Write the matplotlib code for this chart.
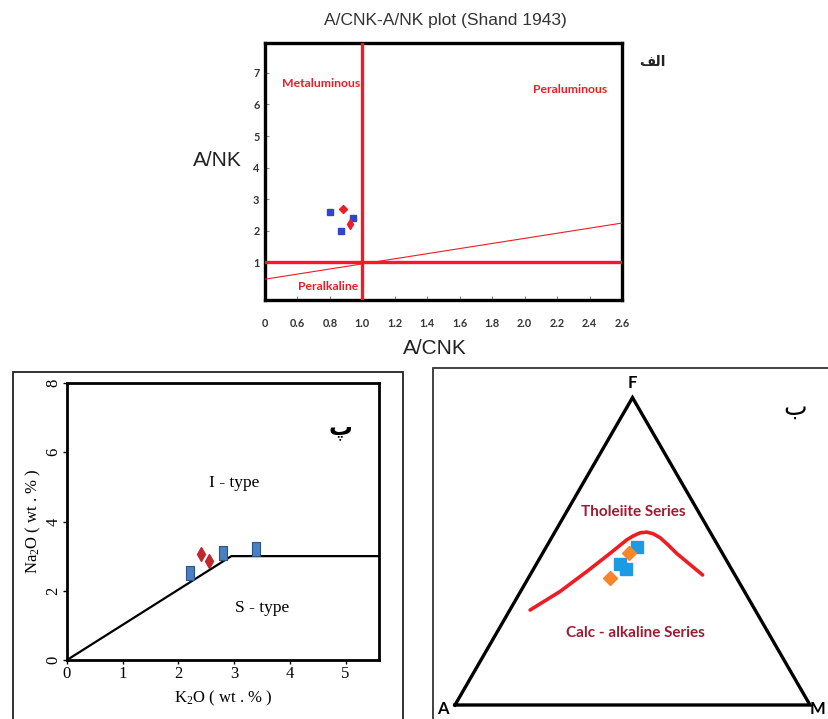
import numpy as np
import matplotlib
matplotlib.use("Agg")
import matplotlib.pyplot as plt
from matplotlib.patches import Rectangle
from matplotlib.path import Path

plt.rcParams['mathtext.fontset'] = 'custom'
plt.rcParams['mathtext.rm'] = 'Liberation Serif'
plt.rcParams['mathtext.it'] = 'Liberation Serif:italic'

# ---------------- data ----------------
# Panel (alef): A/CNK vs A/NK
acnk_blue = [0.80, 0.87, 0.94]
anK_blue = [2.6, 2.0, 2.4]
acnk_red = [0.88, 0.925]
anK_red = [2.7, 2.2]
top_xticks = [0.4, 0.6, 0.8, 1.0, 1.2, 1.4, 1.6, 1.8, 2.0, 2.2, 2.4, 2.6]
top_xticklabels = ['0', '0.6', '0.8', '1.0', '1.2', '1.4', '1.6', '1.8', '2.0', '2.2', '2.4', '2.6']
top_yticks = [1, 2, 3, 4, 5, 6, 7]
diag_x = [0.4, 2.6]
diag_y = [0.46, 2.24]

# Panel (pe): K2O vs Na2O
k2o_blue = [2.2, 2.8, 3.4]
na2o_blue = [2.5, 3.1, 3.2]
k2o_red = [2.41, 2.54]
na2o_red = [3.05, 2.85]
is_bound_x = [0.0, 2.95, 5.6]
is_bound_y = [0.0, 3.0, 3.0]

# Panel (be): AFM ternary (A, F, M in %)
curve_A = [63.4, 52.0, 41.2, 31.7, 24.8, 22.3, 19.9, 17.9, 16.3, 15.0, 13.9, 12.9, 9.1]
curve_F = [30.9, 36.9, 43.4, 49.3, 53.7, 55.0, 56.0, 56.3, 55.7, 54.4, 52.0, 49.3, 42.3]
curve_M = [5.7, 11.1, 15.4, 19.0, 21.5, 22.7, 24.1, 25.9, 28.0, 30.6, 34.1, 37.8, 48.6]
afm_blue_A = [22.9, 30.5, 29.6]
afm_blue_F = [51.5, 46.0, 44.2]
afm_blue_M = [25.6, 23.5, 26.2]
afm_orange_A = [26.2, 35.6]
afm_orange_F = [49.4, 41.2]
afm_orange_M = [24.4, 23.2]


def tern(a, f, m):
    a = np.asarray(a, float); f = np.asarray(f, float); m = np.asarray(m, float)
    t = a + f + m
    F = f / t
    M = m / t
    return M + F / 2.0, F * np.sqrt(3) / 2.0


W, H = 829, 719
fig = plt.figure(figsize=(W / 100, H / 100), dpi=100)
fig.patch.set_facecolor('white')

RED = '#ee1c25'

# ================= Top panel =================
ax1 = fig.add_axes([265 / W, 1 - 300 / H, 357 / W, 257 / H])
ax1.set_xlim(0.4, 2.6)
ax1.set_ylim(-0.2, 7.95)
for s in ax1.spines.values():
    s.set_linewidth(2.4)
    s.set_color('black')
ax1.axvline(1.0, color=RED, lw=2.4, zorder=3)
ax1.axhline(1.0, color=RED, lw=2.4, zorder=3)
ax1.plot(diag_x, diag_y, color=RED, lw=0.8, zorder=3)
ax1.plot(acnk_blue, anK_blue, 's', color='#3344cc', ms=3.8, zorder=4)
ax1.plot(acnk_red[:1], anK_red[:1], 'D', color=RED, ms=3.6, zorder=4)
ax1.plot(acnk_red[1:], anK_red[1:], 'd', color=RED, ms=5, zorder=4)
ax1.set_xticks(top_xticks)
ax1.set_xticklabels(top_xticklabels)
ax1.set_yticks(top_yticks)
ax1.tick_params(direction='in', length=3, width=0.8, color='#888888',
                labelsize=7.8, labelcolor='#333333')
ax1.tick_params(axis='x', pad=13)
ax1.tick_params(axis='y', pad=4)
for lab in ax1.get_xticklabels() + ax1.get_yticklabels():
    lab.set_fontweight('bold')
    lab.set_family('Lato')
ax1.text(0.745, 6.65, 'Metaluminous', color=RED, fontsize=8.8, fontweight='bold',
         family='Lato', ha='center', va='center')
ax1.text(2.28, 6.49, 'Peraluminous', color=RED, fontsize=8.8, fontweight='bold',
         family='Lato', ha='center', va='center')
ax1.text(0.79, 0.24, 'Peralkaline', color=RED, fontsize=8.8, fontweight='bold',
         family='Lato', ha='center', va='center')
fig.text(445 / W, 1 - 20 / H, 'A/CNK-A/NK plot (Shand 1943)', fontsize=12.5,
         family='Liberation Sans', color='#333333', ha='center', va='center')
fig.text(217 / W, 1 - 161 / H, 'A/NK', fontsize=15, family='Liberation Sans',
         color='#222222', ha='center', va='center')
fig.text(435 / W, 1 - 348 / H, 'A/CNK', fontsize=15, family='Liberation Sans',
         color='#222222', ha='center', va='center')
fig.text(652 / W, 1 - 62 / H, '\uFED2\uFEDF\uFE8D', fontsize=10, fontweight='bold',
         family='DejaVu Sans', color='#222222', ha='center', va='center')

# ================= Bottom-left panel =================
fig.add_artist(Rectangle((13 / W, -0.02), 390 / W, 1 - 372 / H + 0.02,
                         transform=fig.transFigure, fill=False,
                         edgecolor='#222222', lw=1.3))
ax2 = fig.add_axes([67 / W, 1 - 660 / H, 312 / W, 277 / H])
ax2.set_xlim(0, 5.6)
ax2.set_ylim(0, 8)
for s in ax2.spines.values():
    s.set_linewidth(2.0)
    s.set_color('black')
ax2.plot(is_bound_x, is_bound_y, color='black', lw=1.6, zorder=3)
rect_marker = Path([(-0.6, -1), (0.6, -1), (0.6, 1), (-0.6, 1), (-0.6, -1)],
                   [Path.MOVETO, Path.LINETO, Path.LINETO, Path.LINETO, Path.CLOSEPOLY])
ax2.plot(k2o_blue, na2o_blue, linestyle='none', marker=rect_marker, ms=10,
         mfc='#4a7fc4', mec='#2b5289', mew=0.8, zorder=4)
ax2.plot(k2o_red, na2o_red, 'd', color='#c0282d', ms=7, zorder=4)
ax2.set_xticks([0, 1, 2, 3, 4, 5])
ax2.set_yticks([0, 2, 4, 6, 8])
ax2.tick_params(direction='out', length=3, width=1, labelsize=12)
ax2.tick_params(axis='x', pad=1)
ax2.tick_params(axis='y', pad=1)
for lab in ax2.get_xticklabels():
    lab.set_family('Liberation Serif')
for lab in ax2.get_yticklabels():
    lab.set_family('Liberation Serif')
    lab.set_rotation(90)
    lab.set_va('center')
ax2.set_xlabel(r'K$_2$O ( wt . % )', fontsize=12, family='Liberation Serif', labelpad=5)
ax2.set_ylabel(r'Na$_2$O ( wt . % )', fontsize=12, family='Liberation Serif', labelpad=2)
ax2.text(3.0, 5.1, 'I - type', fontsize=12.5, family='Liberation Serif',
         ha='center', va='center')
ax2.text(3.5, 1.5, 'S - type', fontsize=12.5, family='Liberation Serif',
         ha='center', va='center')
ax2.text(4.9, 6.7, '\u067E', fontsize=17, fontweight='bold', family='DejaVu Sans',
         ha='center', va='center')

# ================= Bottom-right panel (AFM) =================
fig.add_artist(Rectangle((433 / W, -0.02), 0.5, 1 - 368 / H + 0.02,
                         transform=fig.transFigure, fill=False,
                         edgecolor='#333333', lw=1.3))
ax3 = fig.add_axes([455 / W, 1 - 705 / H, 355 / W, 307.4 / H])
ax3.set_xlim(0, 1)
ax3.set_ylim(0, np.sqrt(3) / 2)
ax3.axis('off')
tx, ty = tern([100, 0, 0, 100], [0, 0, 100, 0], [0, 100, 0, 0])
ax3.plot(tx, ty, color='black', lw=2.4, clip_on=False, solid_joinstyle='miter')
cx, cy = tern(curve_A, curve_F, curve_M)
ax3.plot(cx, cy, color='#ee1c25', lw=2.6, solid_capstyle='round',
         solid_joinstyle='round', zorder=3)
bx, by = tern(afm_blue_A, afm_blue_F, afm_blue_M)
ax3.plot(bx, by, 's', color='#1c9be3', ms=8, zorder=4)
ox, oy = tern(afm_orange_A, afm_orange_F, afm_orange_M)
ax3.plot(ox, oy, 'D', color='#f7862a', ms=7, zorder=4)
ax3.text(0.501, 0.544, 'Tholeiite Series', color='#9e1b32', fontsize=11,
         fontweight='bold', family='Lato', ha='center', va='center')
ax3.text(0.507, 0.203, 'Calc - alkaline Series', color='#9e1b32', fontsize=11,
         fontweight='bold', family='Lato', ha='center', va='center')
ax3.text(0.4986, 0.907, 'F', fontsize=12, fontweight='bold', family='Lato',
         ha='center', va='center', clip_on=False)
ax3.text(-0.034, -0.012, 'A', fontsize=12, fontweight='bold', family='Lato',
         ha='center', va='center', clip_on=False)
ax3.text(1.022, -0.012, 'M', fontsize=12, fontweight='bold', family='Lato',
         ha='center', va='center', clip_on=False)
ax3.text(0.958, 0.837, '\u0628', fontsize=18, family='DejaVu Sans',
         ha='center', va='center', clip_on=False)

fig.savefig('out.png', dpi=100)
